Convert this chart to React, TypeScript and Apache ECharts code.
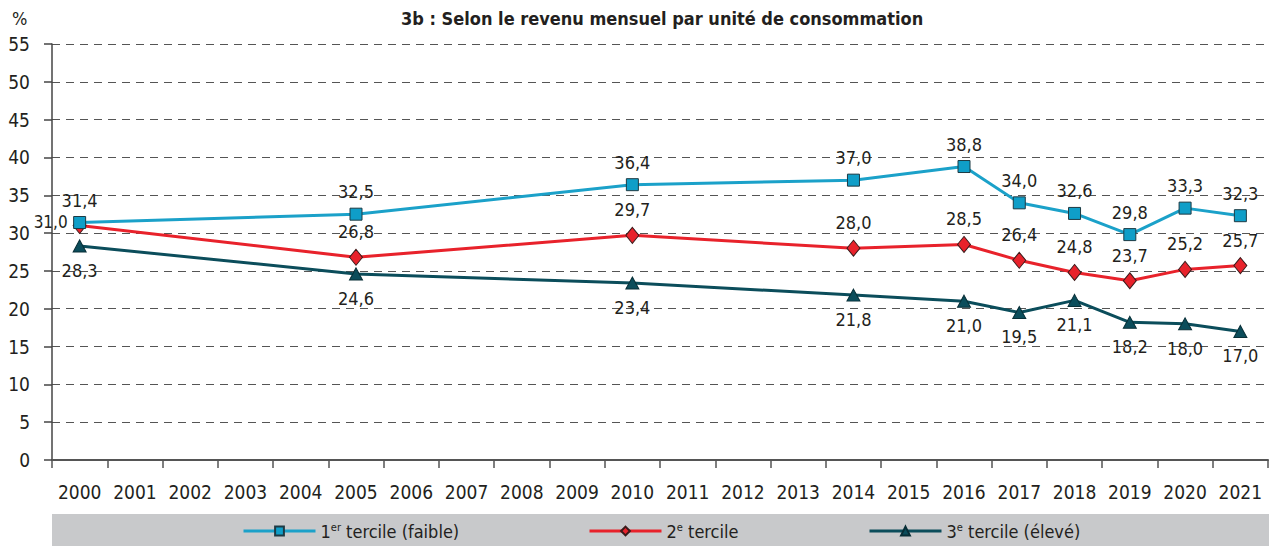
import React, { useEffect, useRef } from "react";
import * as echarts from "echarts";

const years = ["2000","2001","2002","2003","2004","2005","2006","2007","2008","2009","2010","2011","2012","2013","2014","2015","2016","2017","2018","2019","2020","2021"];
const dataYears = ["2000","2005","2010","2014","2016","2017","2018","2019","2020","2021"];
const tercile1 = [31.4, 32.5, 36.4, 37.0, 38.8, 34.0, 32.6, 29.8, 33.3, 32.3];
const tercile2 = [31.0, 26.8, 29.7, 28.0, 28.5, 26.4, 24.8, 23.7, 25.2, 25.7];
const tercile3 = [28.3, 24.6, 23.4, 21.8, 21.0, 19.5, 21.1, 18.2, 18.0, 17.0];
const seriesNames = ["1{sup|er} tercile (faible)", "2{sup|e} tercile", "3{sup|e} tercile (élevé)"];
const titleText = "3b : Selon le revenu mensuel par unité de consommation";

const FONT = "'Liberation Sans Narrow', 'DejaVu Sans Condensed', 'Roboto Condensed', Arial, sans-serif";

function expand(vals: number[]) {
  return years.map((y) => {
    const i = dataYears.indexOf(y);
    return i >= 0 ? vals[i] : null;
  });
}

const fmt = (p: any) => (typeof p.value === "number" ? p.value.toFixed(1).replace(".", ",") : "");

export default function App() {
  const ref = useRef<HTMLDivElement>(null);
  useEffect(() => {
    document.body.style.margin = "0";
    const chart = echarts.init(ref.current!, null, { renderer: "svg" });
    const labelBase = { show: true, formatter: fmt, fontFamily: FONT, fontSize: 18, color: "#231f20" };
    const rich = { sup: { fontSize: 11, verticalAlign: "top", lineHeight: 12, padding: [0, 0, 8, 0], fontFamily: FONT, color: "#231f20" } };
    const legendCommon = {
      top: 517,
      itemWidth: 72,
      itemHeight: 11,
      itemGap: 12,
      lineStyle: { width: 3 },
      textStyle: { fontFamily: FONT, fontSize: 18, color: "#231f20", rich },
    };
    chart.setOption({
      animation: false,
      textStyle: { fontFamily: FONT },
      graphic: [
        { type: "rect", left: 52, top: 514, shape: { width: 1217, height: 32 }, style: { fill: "#c8c9cb" }, z: -1 },
        { type: "text", left: 12, top: 9, style: { text: "%", font: `18px ${FONT}`, fill: "#231f20" } },
        { type: "text", left: 401, top: 9, style: { text: titleText, font: `bold 18px ${FONT}`, fill: "#231f20" } },
      ],
      legend: [
        { ...legendCommon, left: 237, data: [seriesNames[0]] },
        { ...legendCommon, left: 583, data: [seriesNames[1]] },
        { ...legendCommon, left: 863, data: [seriesNames[2]] },
      ],
      grid: { left: 52, right: 1, top: 44, bottom: 86, containLabel: false },
      xAxis: {
        type: "category",
        data: years,
        boundaryGap: true,
        axisLine: { lineStyle: { color: "#555", width: 2 } },
        axisTick: { show: true, length: 8, lineStyle: { color: "#555", width: 1.5 } },
        axisLabel: { fontFamily: FONT, fontSize: 19, color: "#231f20", margin: 22, interval: 0 },
      },
      yAxis: {
        type: "value",
        min: 0,
        max: 55,
        interval: 5,
        axisLine: { show: true, lineStyle: { color: "#444", width: 1.5 } },
        axisTick: { show: true, length: 8, lineStyle: { color: "#444", width: 1.5 } },
        axisLabel: { fontFamily: FONT, fontSize: 19, color: "#231f20", margin: 22 },
        splitLine: { show: true, lineStyle: { color: "#555", type: [8, 6], width: 1.2 } },
      },
      series: [
        {
          name: seriesNames[0],
          type: "line",
          data: expand(tercile1),
          connectNulls: true,
          symbol: "rect",
          symbolSize: 12,
          lineStyle: { color: "#1ba1c9", width: 3 },
          itemStyle: { color: "#0f9ec8", borderColor: "#1d3a44", borderWidth: 1 },
          label: { ...labelBase, position: "top", distance: 7 },
          z: 3,
        },
        {
          name: seriesNames[1],
          type: "line",
          data: expand(tercile2).map((v, i) =>
            i === 0 ? { value: v, label: { position: "left", distance: 5, offset: [0, -4], fontSize: 17 } } : v
          ),
          connectNulls: true,
          symbol: "diamond",
          symbolSize: [13, 16],
          lineStyle: { color: "#e8222b", width: 3 },
          itemStyle: { color: "#e8222b", borderColor: "#3a1b1b", borderWidth: 1 },
          label: { ...labelBase, position: "top", distance: 8 },
          z: 2,
        },
        {
          name: seriesNames[2],
          type: "line",
          data: expand(tercile3),
          connectNulls: true,
          symbol: "triangle",
          symbolSize: [13, 12],
          lineStyle: { color: "#0b4d5b", width: 3 },
          itemStyle: { color: "#0b4d5b", borderColor: "#082f37", borderWidth: 1 },
          label: { ...labelBase, position: "bottom", distance: 9 },
          z: 1,
        },
      ],
    });
    return () => chart.dispose();
  }, []);
  return <div ref={ref} style={{ position: "absolute", left: 0, top: 0, width: 1269, height: 546 }} />;
}
